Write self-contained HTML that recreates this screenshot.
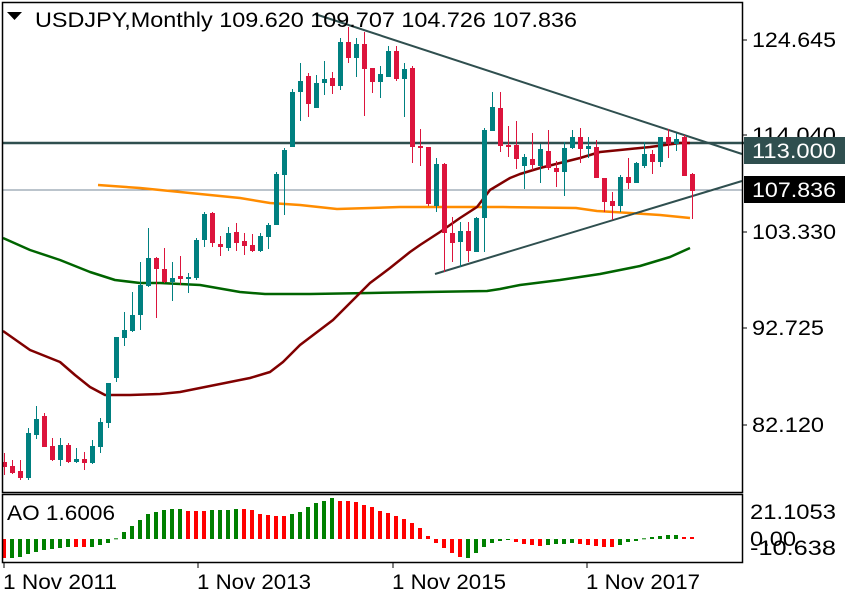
<!DOCTYPE html>
<html><head><meta charset="utf-8"><style>
html,body{margin:0;padding:0;background:#fff;width:860px;height:600px;overflow:hidden}
svg{display:block}
text{font-family:"Liberation Sans",sans-serif;fill:#000}
</style></head><body>
<svg id="c" width="860" height="600" xmlns="http://www.w3.org/2000/svg">
<rect x="0" y="0" width="860" height="600" fill="#fff"/>
<g id="lines"></g>
<g id="candles"></g>
<g id="ao"></g>
<!-- frames -->
<rect x="2.5" y="2.5" width="740" height="490" fill="none" stroke="#000" stroke-width="1.5"/>
<rect x="2.5" y="494.5" width="740" height="68" fill="none" stroke="#000" stroke-width="1.5"/>
<!-- title -->
<polygon points="7,12 22,12 14.5,20" fill="#000"/>
<text x="35" y="27" font-size="21" textLength="542" lengthAdjust="spacingAndGlyphs">USDJPY,Monthly  109.620 109.707 104.726 107.836</text>
<!-- right axis -->
<g stroke="#000" stroke-width="1">
<line x1="742" y1="40" x2="747" y2="40"/><line x1="742" y1="135" x2="747" y2="135"/>
<line x1="742" y1="232" x2="747" y2="232"/><line x1="742" y1="328" x2="747" y2="328"/>
<line x1="742" y1="425" x2="747" y2="425"/>
<line x1="4" y1="562" x2="4" y2="568"/><line x1="198" y1="562" x2="198" y2="568"/>
<line x1="393" y1="562" x2="393" y2="568"/><line x1="587" y1="562" x2="587" y2="568"/>
</g>
<g font-size="21">
<text x="752" y="47" textLength="84" lengthAdjust="spacingAndGlyphs">124.645</text>
<text x="752" y="142" textLength="84" lengthAdjust="spacingAndGlyphs">114.040</text>
<text x="752" y="239" textLength="84" lengthAdjust="spacingAndGlyphs">103.330</text>
<text x="752" y="335" textLength="72" lengthAdjust="spacingAndGlyphs">92.725</text>
<text x="752" y="432" textLength="72" lengthAdjust="spacingAndGlyphs">82.120</text>
</g>
<rect x="744" y="137" width="101" height="27" fill="#2f4f4f"/>
<text x="752" y="158" font-size="21" fill="#fff" style="fill:#fff" textLength="84" lengthAdjust="spacingAndGlyphs">113.000</text>
<rect x="744" y="176" width="101" height="27" fill="#000"/>
<text x="752" y="197" font-size="21" style="fill:#fff" textLength="84" lengthAdjust="spacingAndGlyphs">107.836</text>
<!-- AO labels -->
<text x="7" y="520" font-size="21" textLength="108" lengthAdjust="spacingAndGlyphs">AO 1.6006</text>
<text x="750" y="519" font-size="21" textLength="86" lengthAdjust="spacingAndGlyphs">21.1053</text>
<text x="750" y="546" font-size="21" textLength="46" lengthAdjust="spacingAndGlyphs">0.00</text>
<text x="750" y="555" font-size="21" textLength="86" lengthAdjust="spacingAndGlyphs">-10.638</text>
<!-- bottom labels -->
<g font-size="21">
<text x="3" y="589" textLength="114" lengthAdjust="spacingAndGlyphs">1 Nov 2011</text>
<text x="197" y="589" textLength="114" lengthAdjust="spacingAndGlyphs">1 Nov 2013</text>
<text x="392" y="589" textLength="114" lengthAdjust="spacingAndGlyphs">1 Nov 2015</text>
<text x="586" y="589" textLength="114" lengthAdjust="spacingAndGlyphs">1 Nov 2017</text>
</g>
</svg>
<script>
(function(){
var NS="http://www.w3.org/2000/svg";
function el(p,t,a){var e=document.createElementNS(NS,t);for(var k in a)e.setAttribute(k,a[k]);p.appendChild(e);return e;}
var L=document.getElementById("lines"),C=document.getElementById("candles"),A=document.getElementById("ao");
function pl(pts,col,w){el(L,"polyline",{points:pts.map(function(p){return p.join(",")}).join(" "),fill:"none",stroke:col,"stroke-width":w,"stroke-linejoin":"round"});}
// horizontal lines
el(L,"line",{x1:3,y1:190,x2:742,y2:190,stroke:"#778899","stroke-width":1});
el(L,"line",{x1:3,y1:143,x2:744,y2:143,stroke:"#2f4f4f","stroke-width":2.5});
// MAs
pl([[98,185],[140,188],[180,192],[240,198],[270,203],[300,205],[337,209],[370,208],[400,207],[503,207],[576,208],[597,211],[630,213],[660,215],[690,218]],"#ff8c00",2.5);
pl([[3,238],[30,250],[60,260],[90,272],[115,280],[140,283],[160,283],[200,285],[240,292],[265,294],[310,294],[370,293],[487,291],[500,289],[520,285],[560,280],[600,274],[640,266],[670,257],[690,248]],"#006400",2.5);
pl([[3,331],[30,350],[60,362],[75,375],[90,387],[105,395],[130,395],[160,394],[180,392],[200,388],[230,382],[250,378],[270,372],[283,362],[300,345],[333,320],[370,283],[390,268],[410,252],[420,245],[440,232],[460,218],[477,207],[490,190],[510,178],[520,174],[540,168],[560,163],[580,158],[600,152],[620,150],[650,147],[680,143],[690,143]],"#800000",2.5);
// trendlines
el(L,"line",{x1:315,y1:14,x2:742,y2:154,stroke:"#2f4f4f","stroke-width":2});
el(L,"line",{x1:435,y1:274,x2:742,y2:181,stroke:"#2f4f4f","stroke-width":2});
// candles: g(1 green/0 red), bodyTop, bodyBot, wickTop, wickBot
var d=[[0,462,467,453,475],[0,466,473,460,474],[0,471,478,460,480],[1,433,478,428,480],[1,419,435,406,439],[0,416,447,413,447],[0,446,460,438,461],[1,445,460,438,466],[0,445,462,443,463],[1,459,462,448,463],[0,459,463,452,470],[1,446,463,440,464],[1,422,447,418,453],[1,383,423,383,428],[1,337,378,337,382],[1,330,338,312,346],[1,315,331,292,332],[1,285,315,262,330],[1,258,286,228,287],[0,258,269,257,318],[0,269,282,248,283],[1,278,282,262,301],[0,276,279,256,285],[1,277,279,273,293],[1,240,278,238,280],[1,214,240,212,247],[0,213,243,212,247],[0,244,247,236,256],[1,233,248,227,251],[0,232,243,223,251],[0,241,246,233,255],[0,245,251,234,252],[1,236,251,233,252],[1,225,237,223,249],[1,174,225,172,225],[1,150,175,148,215],[1,92,147,89,147],[1,81,92,63,121],[0,76,104,73,117],[1,83,108,75,108],[1,79,83,61,95],[0,78,86,72,94],[1,42,86,38,90],[0,42,58,27,63],[1,44,58,38,77],[0,44,69,32,116],[0,68,82,68,93],[1,74,82,66,98],[1,51,77,46,77],[0,51,79,46,81],[1,69,79,63,117],[0,68,147,66,163],[0,146,148,129,166],[0,147,204,147,206],[1,164,206,158,212],[0,164,233,163,272],[0,233,243,217,262],[1,231,242,222,267],[0,231,251,222,262],[1,218,252,217,252],[1,130,218,128,252],[1,107,131,92,131],[0,108,146,92,152],[0,145,147,126,157],[0,145,159,121,169],[1,157,166,154,189],[0,159,165,133,170],[1,149,166,144,183],[0,151,168,130,170],[0,168,172,161,187],[1,148,172,142,196],[1,137,148,130,149],[0,137,149,128,163],[1,146,149,137,158],[0,147,178,140,178],[0,178,202,178,212],[0,201,206,192,220],[1,177,206,175,212],[0,177,183,158,189],[1,163,183,162,183],[1,154,166,142,168],[0,154,162,150,174],[1,137,162,137,167],[0,137,144,129,158],[1,139,144,133,151],[0,137,176,135,176],[0,174,191,173,219]];
d.forEach(function(c,i){var x=4+8*i;var col=c[0]?"#008080":"#dc143c";
el(C,"line",{x1:x+0.5,y1:c[3],x2:x+0.5,y2:c[4],stroke:col,"stroke-width":1});
var h=Math.max(c[2]-c[1],1.5);el(C,"rect",{x:x-2,y:c[1],width:5,height:h,fill:col});});
// AO
var ao=[-19,-19,-18,-15,-13,-11,-10,-9,-8,-8,-8,-8,-6,-4,0.7,7,13,19,25,27,29,30,30,28,28,28,29,29,29,30,30,29,25,24,23,23,25,27,32,36,38,41,38,38,37,34,32,28,26,23,20,16,11,3,-4,-9,-14,-18,-19,-14,-8,-4,-2,-1,-3,-5,-6,-7,-6,-5,-5,-4,-5,-6,-7,-8,-8,-6,-3,-2,0.7,2,3,4,4,2,2];
var aoc=[0,1,1,1,1,1,1,1,1,0,0,1,1,1,1,1,1,1,1,1,1,1,1,0,0,0,1,1,1,1,0,0,0,0,0,0,1,1,1,1,1,1,0,0,0,0,0,0,0,0,0,0,0,0,0,0,0,0,1,1,1,1,1,1,0,0,0,0,1,1,1,1,0,0,0,0,0,1,1,1,1,1,1,1,1,0,0];
ao.forEach(function(v,i){var x=2+8*i;var col=aoc[i]?"#008000":"#ff0000";
var y=v>0?539-v:539;var h=Math.max(Math.abs(v),1);el(A,"rect",{x:x,y:y,width:4,height:h,fill:col});});
})();
</script>
</body></html>
